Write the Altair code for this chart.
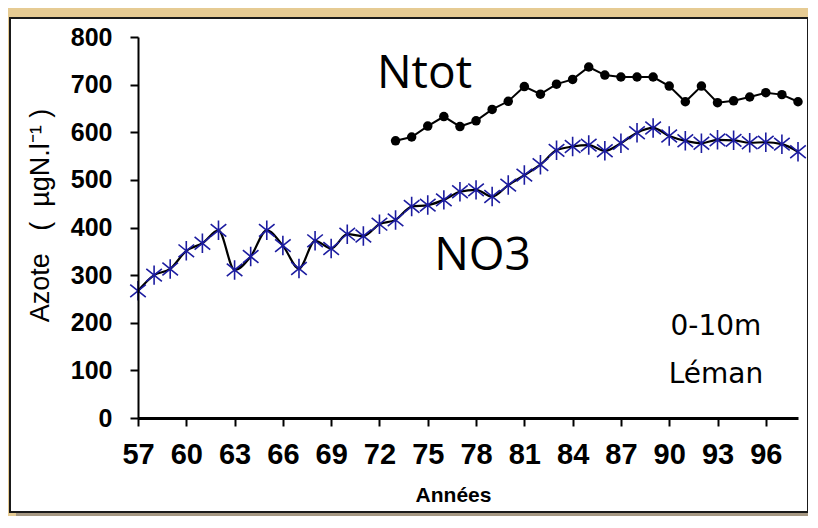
import altair as alt
import pandas as pd

# ---- data ----
years = list(range(57, 99))
no3 = [267, 300, 313, 351, 367, 394, 311, 339, 394, 362,
       314, 372, 356, 386, 382, 407, 416, 444, 447, 458,
       475, 479, 465, 489, 510, 532, 562, 570, 573, 561,
       577, 599, 609, 592, 582, 577, 584, 583, 578, 579,
       575, 559]
ntot_years = list(range(73, 99))
ntot = [582, 590, 613, 633, 612, 624, 648, 665, 696, 680,
        701, 711, 737, 720, 716, 716, 716, 697, 664, 697,
        662, 666, 674, 683, 679, 664]
x_ticks = list(range(57, 97, 3))
y_ticks = list(range(0, 801, 100))

df_no3 = pd.DataFrame({"year": years, "value": no3})
df_ntot = pd.DataFrame({"year": ntot_years, "value": ntot})

SANS = "'Liberation Sans', Arial, sans-serif"
HAND = "'Open Sans', 'DejaVu Sans', sans-serif"
NB = "\u00a0"

xs = alt.Scale(domain=[57, 98], nice=False, zero=False)
ys = alt.Scale(domain=[0, 800], nice=False)

x_axis = alt.Axis(values=x_ticks, title="Années", grid=False, zindex=1,
                  tickSize=8, tickColor="black", tickWidth=2,
                  domainColor="black", domainWidth=3,
                  labelFont=SANS, labelFontSize=29, labelFontWeight="bold",
                  labelColor="black", labelPadding=14, labelFlush=False,
                  labelOverlap=False,
                  titleFont=SANS, titleFontSize=21, titleFontWeight="bold",
                  titleColor="black", titleX=315, titleY=77,
                  titleBaseline="middle", titleAlign="center")
y_axis = alt.Axis(values=y_ticks,
                  title="Azote" + NB * 3 + "(" + NB * 2 + "µgN.l⁻¹" + NB + ")",
                  grid=False, zindex=1,
                  tickSize=8, tickColor="black", tickWidth=2,
                  domainColor="black", domainWidth=2,
                  labelFont=SANS, labelFontSize=25, labelFontWeight="bold",
                  labelColor="black", labelPadding=18,
                  titleFont=SANS, titleFontSize=27, titleFontWeight="normal",
                  titleColor="black", titleAngle=270, titleX=-98, titleY=178,
                  titleAlign="center", titleBaseline="middle")

frame_data = alt.Data(values=[{}])
shadow = alt.Chart(frame_data).mark_rect(fill="#9a8f80", opacity=0.85).encode(
    x=alt.value(-122), x2=alt.value(676), y=alt.value(-13), y2=alt.value(479))
frame = alt.Chart(frame_data).mark_rect(fill="white", stroke="#1a1a1a", strokeWidth=2).encode(
    x=alt.value(-128), x2=alt.value(670), y=alt.value(-19), y2=alt.value(475))

no3_line = alt.Chart(df_no3).mark_line(color="black", strokeWidth=2.2, interpolate="monotone").encode(
    x=alt.X("year:Q", scale=xs, axis=x_axis),
    y=alt.Y("value:Q", scale=ys, axis=y_axis))
asterisk = "M0,-1L0,1M-0.8,-0.65L0.8,0.65M-0.8,0.65L0.8,-0.65"
no3_pts = alt.Chart(df_no3).mark_point(shape=asterisk, filled=False, color="#1c1ca0",
                                       strokeWidth=1.6, size=380, opacity=1).encode(
    x=alt.X("year:Q", scale=xs), y=alt.Y("value:Q", scale=ys))

ntot_line = alt.Chart(df_ntot).mark_line(color="black", strokeWidth=2).encode(
    x=alt.X("year:Q", scale=xs), y=alt.Y("value:Q", scale=ys))
ntot_pts = alt.Chart(df_ntot).mark_point(shape="circle", filled=True, color="black",
                                         size=90, opacity=1).encode(
    x=alt.X("year:Q", scale=xs), y=alt.Y("value:Q", scale=ys))

def label(txt, xv, yv, size, font):
    return alt.Chart(frame_data).mark_text(text=txt, font=font, fontSize=size,
                                           color="black", align="center",
                                           baseline="middle").encode(
        x=alt.datum(xv, scale=xs), y=alt.datum(yv, scale=ys))

ann = (label("Ntot", 74.8, 722, 46, HAND) + label("NO3", 78.4, 340, 46, HAND) +
       label("0-10m", 92.9, 191, 28, "'DejaVu Sans', sans-serif") +
       label("Léman", 92.9, 90, 28, "'DejaVu Sans', sans-serif"))

chart = alt.layer(shadow, frame, no3_line, ntot_line, no3_pts, ntot_pts, ann).properties(
    width=660, height=381,
    background="#e6cb93",
    padding={"left": 130, "top": 29, "right": 10, "bottom": 98},
    autosize=alt.AutoSizeParams(type="none"),
).configure_view(strokeWidth=0)

chart.save("out.html", embed_options={"renderer": "svg", "actions": False})
